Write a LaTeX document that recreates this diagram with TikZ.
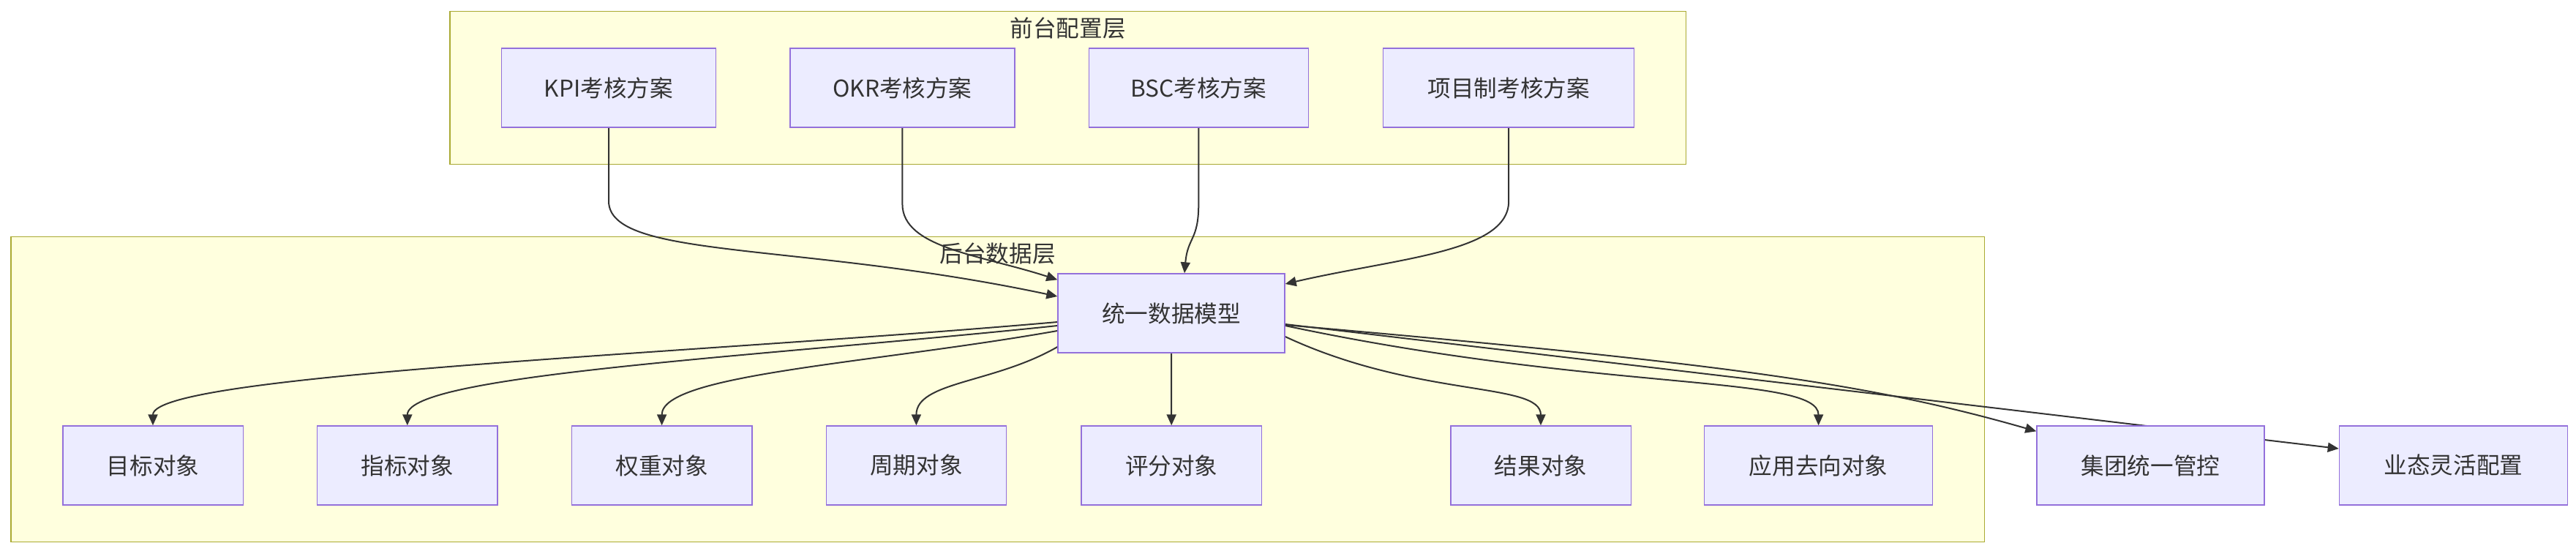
\documentclass[tikz,border=0pt]{standalone}
\usepackage{fontspec}
\setmainfont{Noto Sans CJK SC}
\usepackage{xcolor}
\usetikzlibrary{arrows.meta, positioning, fit, backgrounds}

\definecolor{nodefill}{HTML}{ECECFF}
\definecolor{nodeline}{HTML}{9370DB}
\definecolor{layerfill}{HTML}{FFFFDE}
\definecolor{layerline}{HTML}{AAAA33}
\definecolor{ink}{HTML}{333333}

\pgfdeclarelayer{edges}
\pgfsetlayers{background,edges,main}

\begin{document}
\begin{tikzpicture}[
    box/.style={draw=nodeline, fill=nodefill, line width=0.7pt, minimum height=54pt,
                minimum width=123.2pt, inner xsep=2pt, text=ink},
    layer/.style={draw=layerline, fill=layerfill, line width=0.7pt, inner xsep=35pt, inner ysep=25pt},
    arr/.style={-{Triangle[length=7.5pt,width=6.5pt]}, line width=1pt, draw=ink},
    font=\fontsize{15.8pt}{19pt}\selectfont
]
    \useasboundingbox (0,0) rectangle (1760.5pt,-378pt);

    % front layer
    \node[box, minimum width=146.5pt] at (416pt,-60pt) (kpi) {KPI考核方案};
    \node[box, minimum width=153.5pt, right=50pt of kpi] (okr) {OKR考核方案};
    \node[box, minimum width=150pt, right=50pt of okr] (bsc) {BSC考核方案};
    \node[box, minimum width=171.5pt, right=50.5pt of bsc] (proj) {项目制考核方案};

    % back layer
    \node[box, minimum width=155pt] at (800.5pt,-214pt) (model) {统一数据模型};
    \node[box] at (104.5pt,-318pt) (tgt) {目标对象};
    \node[box, right=50pt of tgt] (ind) {指标对象};
    \node[box, right=50pt of ind] (wgt) {权重对象};
    \node[box, right=50pt of wgt] (prd) {周期对象};
    \node[box, right=50.5pt of prd] (scr) {评分对象};
    \node[box, right=128.5pt of scr] (res) {结果对象};
    \node[box, minimum width=156pt, right=49.5pt of res] (app) {应用去向对象};
    \node[box, minimum width=155.5pt, right=70.5pt of app] (grp) {集团统一管控};
    \node[box, minimum width=156pt, right=50.5pt of grp] (biz) {业态灵活配置};

    \begin{pgfonlayer}{background}
        \node[layer, fit=(kpi)(proj)] (front) {};
        \node[text=ink] at ([yshift=-12pt]front.north) (fronttitle) {前台配置层};
        \node[layer, fit=(tgt)(app)(model)] (back) {};
        \node[text=ink] at ([yshift=-12pt]back.north) (backtitle) {后台数据层};
    \end{pgfonlayer}

    \begin{pgfonlayer}{edges}
        \draw[arr] (kpi.south) -- ++(0,-50pt) to[out=-90, in=168, out distance=40pt, in distance=180pt] ([yshift=11.5pt]model.west);
        \draw[arr] (okr.south) -- ++(0,-52pt) to[out=-90, in=162, out distance=30pt, in distance=55pt] ([yshift=-4.5pt]model.north west);
        \draw[arr] (bsc.south) -- ++(0,-52pt) to[out=-90, in=85, out distance=25pt, in distance=25pt] ([xshift=9pt]model.north);
        \draw[arr] (proj.south) -- ++(0,-50pt) to[out=-90, in=13, out distance=35pt, in distance=80pt] ([yshift=20pt]model.east);

        \draw[arr] ([yshift=-6pt]model.west) to[out=185, in=90, out distance=250pt, in distance=35pt] (tgt.north);
        \draw[arr] ([yshift=-8.5pt]model.west) to[out=186, in=90, out distance=200pt, in distance=35pt] (ind.north);
        \draw[arr] ([yshift=-12pt]model.west) to[out=190, in=90, out distance=130pt, in distance=35pt] (wgt.north);
        \draw[arr] ([yshift=-23pt]model.west) to[out=210, in=90, out distance=50pt, in distance=30pt] (prd.north);
        \draw[arr] (model.south) -- (scr.north);
        \draw[arr] ([yshift=-16pt]model.east) to[out=-25, in=90, out distance=100pt, in distance=30pt] (res.north);
        \draw[arr] ([yshift=-8.5pt]model.east) to[out=-12, in=90, out distance=220pt, in distance=35pt] (app.north);
        \draw[arr] ([yshift=-8pt]model.east) to[out=-5, in=164, out distance=300pt, in distance=120pt] ([yshift=-4pt]grp.north west);
        \draw[arr] ([yshift=-7.5pt]model.east) -- ([yshift=11.5pt]biz.west);
    \end{pgfonlayer}
\end{tikzpicture}
\end{document}
